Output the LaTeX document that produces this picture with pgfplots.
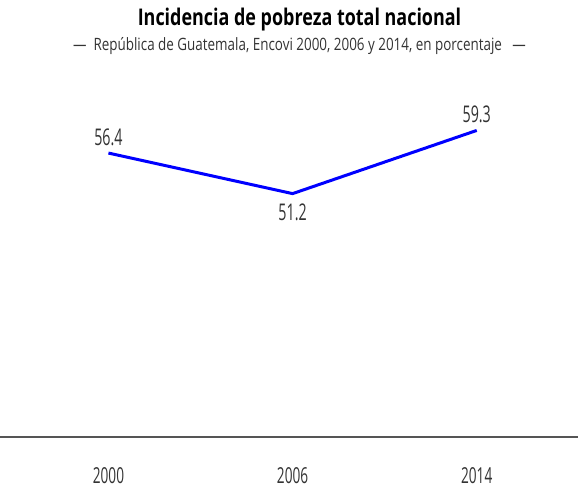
\documentclass[border=0pt]{standalone}
\usepackage{fontspec}
\setmainfont{Open Sans}[FakeStretch=0.62]
\newfontfamily\titlefont{Open Sans}[FakeStretch=0.78]
\newfontfamily\subfont{Open Sans}[FakeStretch=0.79]
\usepackage{pgfplots}
\pgfplotsset{compat=1.18}
\definecolor{txt}{HTML}{333333}
\definecolor{axl}{HTML}{555555}
\begin{document}
\begin{tikzpicture}
\useasboundingbox (0,0) rectangle (578bp,489bp);
\begin{axis}[
  at={(0,52bp)}, anchor=south west,
  scale only axis, width=578bp, height=377bp,
  xmin=-0.589, xmax=2.55, ymin=20, ymax=68.33,
  axis x line=bottom, axis y line=none,
  x axis line style={draw=axl, line width=2bp, -},
  xtick={0,1,2}, xticklabels={2000,2006,2014},
  major tick length=0pt,
  xticklabel style={anchor=base, yshift=-46bp, inner sep=0pt, text=txt, font=\fontsize{22bp}{26bp}\selectfont},
  /pgf/number format/assume math mode=true,
  clip=false,
]
\addplot[color=blue, line width=3bp] coordinates {(0,56.4) (1,51.2) (2,59.3)};
\addplot[draw=none, mark=none, nodes near coords, point meta=explicit symbolic,
  every node near coord/.style={anchor=base, yshift=7.5bp, inner sep=0pt, text=txt, font=\fontsize{23bp}{28bp}\selectfont}]
  coordinates {(0,56.4) [56.4] (2,59.3) [59.3]};
\addplot[draw=none, mark=none, nodes near coords, point meta=explicit symbolic,
  every node near coord/.style={anchor=base, yshift=-26.7bp, inner sep=0pt, text=txt, font=\fontsize{23bp}{28bp}\selectfont}]
  coordinates {(1,51.2) [51.2]};
\end{axis}
\node[anchor=base, inner sep=0pt, font=\titlefont\bfseries\fontsize{23bp}{28bp}\selectfont] at (299.5bp,463bp) {Incidencia de pobreza total nacional};
\node[anchor=base, inner sep=0pt, text=txt, font=\subfont\fontsize{17bp}{20bp}\selectfont] at (299.5bp,438bp) {—\ \ República de Guatemala, Encovi 2000, 2006 y 2014, en porcentaje\ \ \ —};
\end{tikzpicture}
\end{document}
